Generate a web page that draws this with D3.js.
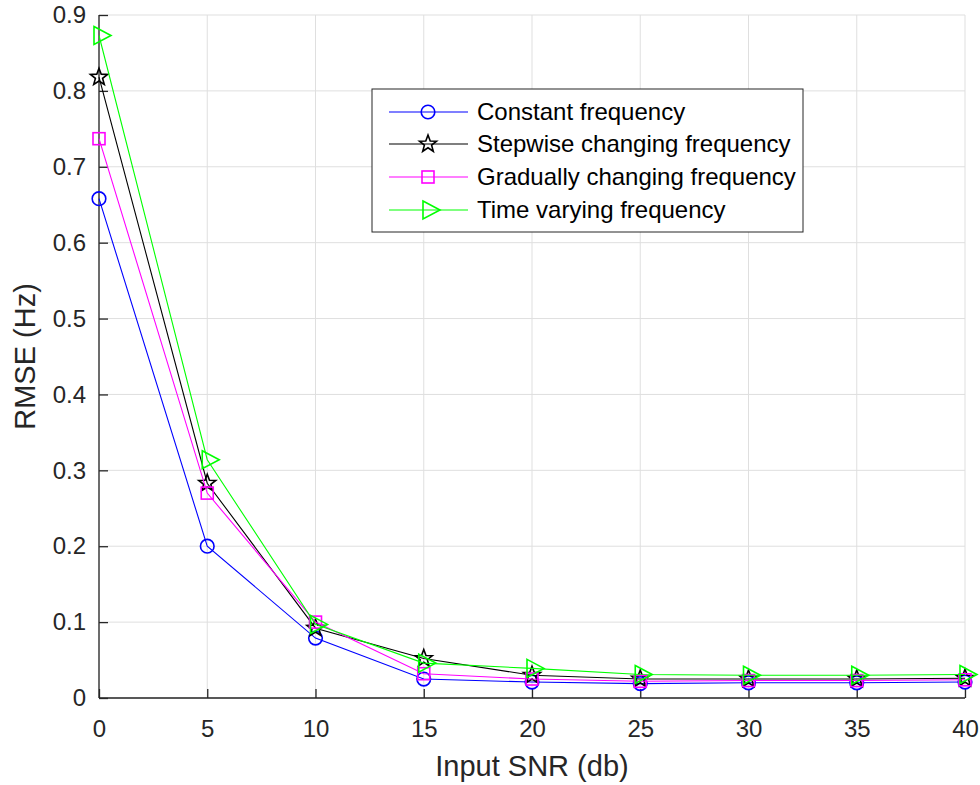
<!DOCTYPE html>
<html><head><meta charset="utf-8">
<script src="https://cdn.jsdelivr.net/npm/d3@7"></script>
<style>body{margin:0;background:#fff;} text{font-family:"Liberation Sans",Arial,sans-serif;}</style>
</head><body><svg id="c" width="980" height="785"></svg>
<script>
const snr = [0,5,10,15,20,25,30,35,40];
const constantFreq = [0.658,0.200,0.079,0.025,0.021,0.019,0.020,0.020,0.021];
const stepwiseFreq = [0.818,0.283,0.092,0.052,0.030,0.025,0.025,0.025,0.026];
const gradualFreq  = [0.737,0.270,0.100,0.032,0.025,0.022,0.023,0.023,0.024];
const timeVaryFreq = [0.873,0.314,0.097,0.046,0.039,0.031,0.030,0.030,0.031];
const seriesNames = ["Constant frequency","Stepwise changing frequency","Gradually changing frequency","Time varying frequency"];
const seriesColors = ["#0000ff","#000000","#ff00ff","#00ff00"];
const seriesMarkers = ["circle","star","square","triangle"];
const xTicks = [0,5,10,15,20,25,30,35,40];
const yTicks = [0,0.1,0.2,0.3,0.4,0.5,0.6,0.7,0.8,0.9];
const seriesData = [constantFreq, stepwiseFreq, gradualFreq, timeVaryFreq];

const svg = d3.select("#c");
const L=99, R=965, T=15, B=698;
const x = d3.scaleLinear().domain([0,40]).range([L,R]);
const y = d3.scaleLinear().domain([0,0.9]).range([B,T]);
const axisColor="#262626";

// grid
svg.append("g").selectAll("line.v").data(xTicks).join("line")
  .attr("x1",d=>x(d)).attr("x2",d=>x(d)).attr("y1",T).attr("y2",B)
  .attr("stroke","#dfdfdf").attr("stroke-width",1);
svg.append("g").selectAll("line.h").data(yTicks).join("line")
  .attr("x1",L).attr("x2",R).attr("y1",d=>y(d)).attr("y2",d=>y(d))
  .attr("stroke","#dfdfdf").attr("stroke-width",1);

// axes
const xAxis = d3.axisBottom(x).tickValues(xTicks).tickSize(-9).tickPadding(22).tickFormat(d3.format("d"));
const gx = svg.append("g").attr("transform",`translate(0,${B})`).call(xAxis);
const yAxis = d3.axisLeft(y).tickValues(yTicks).tickSize(-9).tickPadding(13).tickFormat(d=>d===0?"0":d3.format(".1f")(d));
const gy = svg.append("g").attr("transform",`translate(${L},0)`).call(yAxis);
[gx,gy].forEach(g=>{
  g.attr("font-size",null).attr("font-family",null);
  g.select(".domain").attr("stroke",axisColor).attr("stroke-width",1.3);
  g.selectAll(".tick line").attr("stroke",axisColor).attr("stroke-width",1.3);
  g.selectAll(".tick text").attr("fill",axisColor).style("font-size","24px").style("font-family","'Liberation Sans',Arial,sans-serif");
});
gx.selectAll(".tick text").attr("y",39).attr("dy",0);
gx.select(".domain").attr("d",`M${L},0H${R}`);
gy.select(".domain").attr("d",`M0,${B}V${T}`);

// axis labels
svg.append("text").attr("x",(L+R)/2).attr("y",776).attr("text-anchor","middle")
  .attr("fill",axisColor).style("font-size","29px").text("Input SNR (db)");
svg.append("text").attr("transform",`translate(35,${(T+B)/2}) rotate(-90)`).attr("text-anchor","middle")
  .attr("fill",axisColor).style("font-size","29px").text("RMSE (Hz)");

function starPath(r){
  const pts=[];
  for(let i=0;i<10;i++){
    const a=-Math.PI/2+i*Math.PI/5;
    const rr=i%2===0?r:r*0.42;
    pts.push([rr*Math.cos(a),rr*Math.sin(a)]);
  }
  return "M"+pts.map(p=>p.join(",")).join("L")+"Z";
}
function drawMarker(g,type,cx,cy,color){
  if(type==="circle"){
    g.append("circle").attr("cx",cx).attr("cy",cy).attr("r",6.8).attr("fill","none").attr("stroke",color).attr("stroke-width",1.6);
  } else if(type==="square"){
    g.append("rect").attr("x",cx-6).attr("y",cy-6).attr("width",12).attr("height",12).attr("fill","none").attr("stroke",color).attr("stroke-width",1.6);
  } else if(type==="star"){
    g.append("path").attr("d",starPath(9)).attr("transform",`translate(${cx},${cy})`).attr("fill","none").attr("stroke",color).attr("stroke-width",1.6);
  } else {
    g.append("path").attr("d","M-5,-9L12,0L-5,9Z").attr("transform",`translate(${cx},${cy})`).attr("fill","none").attr("stroke",color).attr("stroke-width",1.6);
  }
}

const line = d3.line().x((d,i)=>x(snr[i])).y(d=>y(d));
seriesData.forEach((vals,k)=>{
  const g=svg.append("g");
  g.append("path").attr("d",line(vals)).attr("fill","none").attr("stroke",seriesColors[k]).attr("stroke-width",1.1);
  vals.forEach((v,i)=>drawMarker(g,seriesMarkers[k],x(snr[i]),y(v),seriesColors[k]));
});

// legend
const lg = svg.append("g");
lg.append("rect").attr("x",372).attr("y",89).attr("width",431).attr("height",143).attr("fill","#fff").attr("stroke",axisColor).attr("stroke-width",1);
const rowY=[112,144,177,210];
seriesNames.forEach((n,k)=>{
  lg.append("line").attr("x1",389).attr("x2",468).attr("y1",rowY[k]).attr("y2",rowY[k]).attr("stroke",seriesColors[k]).attr("stroke-width",1.1);
  drawMarker(lg,seriesMarkers[k],428,rowY[k],seriesColors[k]);
  lg.append("text").attr("x",477).attr("y",rowY[k]).attr("dy","0.35em").attr("fill","#000").style("font-size","24px").text(n);
});
</script></body></html>
